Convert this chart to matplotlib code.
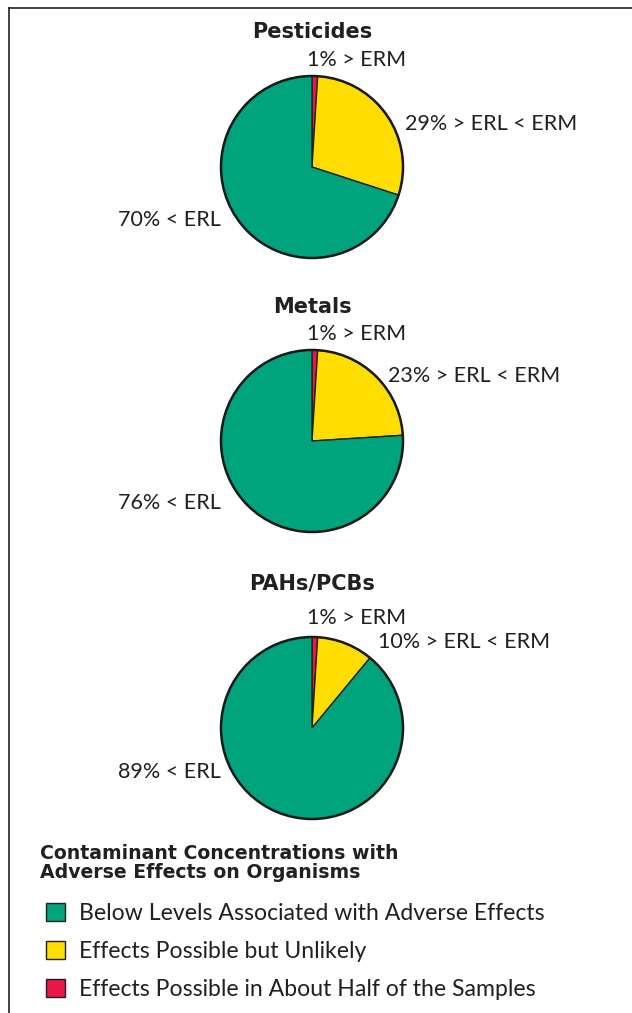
import matplotlib
matplotlib.use("Agg")
import matplotlib.pyplot as plt
from matplotlib.patches import Patch
from matplotlib.lines import Line2D

W, H = 632, 1013
plt.rcParams['font.family'] = ['Lato', 'DejaVu Sans']

titles = ["Pesticides", "Metals", "PAHs/PCBs"]
erm = [1, 1, 1]          # Effects possible in about half of samples (> ERM)
erl_erm = [29, 23, 10]   # Effects possible but unlikely (> ERL < ERM)
below = [70, 76, 89]     # Below levels associated with adverse effects (< ERL)
legend_labels = ["Below Levels Associated with Adverse Effects",
                 "Effects Possible but Unlikely",
                 "Effects Possible in About Half of the Samples"]
legend_title = "Contaminant Concentrations with\nAdverse Effects on Organisms"

green, yellow, red = "#00A47C", "#FFDD00", "#EB1649"
ink = "#231f20"

# layout (pixel coords, y from top)
centers_y = [167, 441, 728]
cx, R = 312, 91
title_y = [32, 307, 583]
erm_lbl = [(357, 60), (357, 334), (357, 618)]
mid_lbl = [(405, 124), (388, 376), (378, 642)]
low_lbl = [(221, 220), (221, 503), (221, 772)]

fig = plt.figure(figsize=(W / 100, H / 100), dpi=100)
ax = fig.add_axes([0, 0, 1, 1])

def Y(py):
    return H - py

bold = dict(family=["DejaVu Sans"], fontweight="bold", color=ink)
lab_fs = 15.5

for i in range(3):
    ax.pie([erm[i], erl_erm[i], below[i]], colors=[red, yellow, green],
           startangle=90, counterclock=False, center=(cx, Y(centers_y[i])),
           radius=R, wedgeprops=dict(edgecolor="#222222", linewidth=1.0))
    circ = plt.Circle((cx, Y(centers_y[i])), R, fill=False, edgecolor="#1a1a1a", lw=1.8)
    ax.add_patch(circ)
    ax.text(cx, Y(title_y[i]), titles[i], ha="center", va="center",
            fontsize=15, **bold)
    ax.text(erm_lbl[i][0], Y(erm_lbl[i][1]), f"{erm[i]}% > ERM", ha="center",
            va="center", fontsize=lab_fs, color=ink)
    ax.text(mid_lbl[i][0], Y(mid_lbl[i][1]), f"{erl_erm[i]}% > ERL < ERM", ha="left",
            va="center", fontsize=lab_fs, color=ink)
    ax.text(low_lbl[i][0], Y(low_lbl[i][1]), f"{below[i]}% < ERL", ha="right",
            va="center", fontsize=lab_fs, color=ink)

ax.set_xlim(0, W)
ax.set_ylim(0, H)
ax.set_aspect("equal")
ax.axis("off")

# frame lines
ax.add_line(Line2D([9, W], [Y(8), Y(8)], color=ink, lw=1.2))
ax.add_line(Line2D([9, 9], [Y(8), 0], color=ink, lw=1.2))

# legend title
ax.text(40, Y(863), legend_title, ha="left", va="center", fontsize=13.6,
        linespacing=0.98, **bold)

leg_fs = 16.6
handles = [Patch(facecolor=c, edgecolor=ink, linewidth=1.0) for c in [green, yellow, red]]
leg = ax.legend(handles, legend_labels, loc="upper left",
                bbox_to_anchor=(46 / W, 1 - 903 / H), frameon=False,
                fontsize=leg_fs, handlelength=0.82, handleheight=0.85,
                handletextpad=0.6, labelspacing=0.72, borderaxespad=0, borderpad=0)
for t in leg.get_texts():
    t.set_color(ink)

fig.savefig("out.png", dpi=100)
